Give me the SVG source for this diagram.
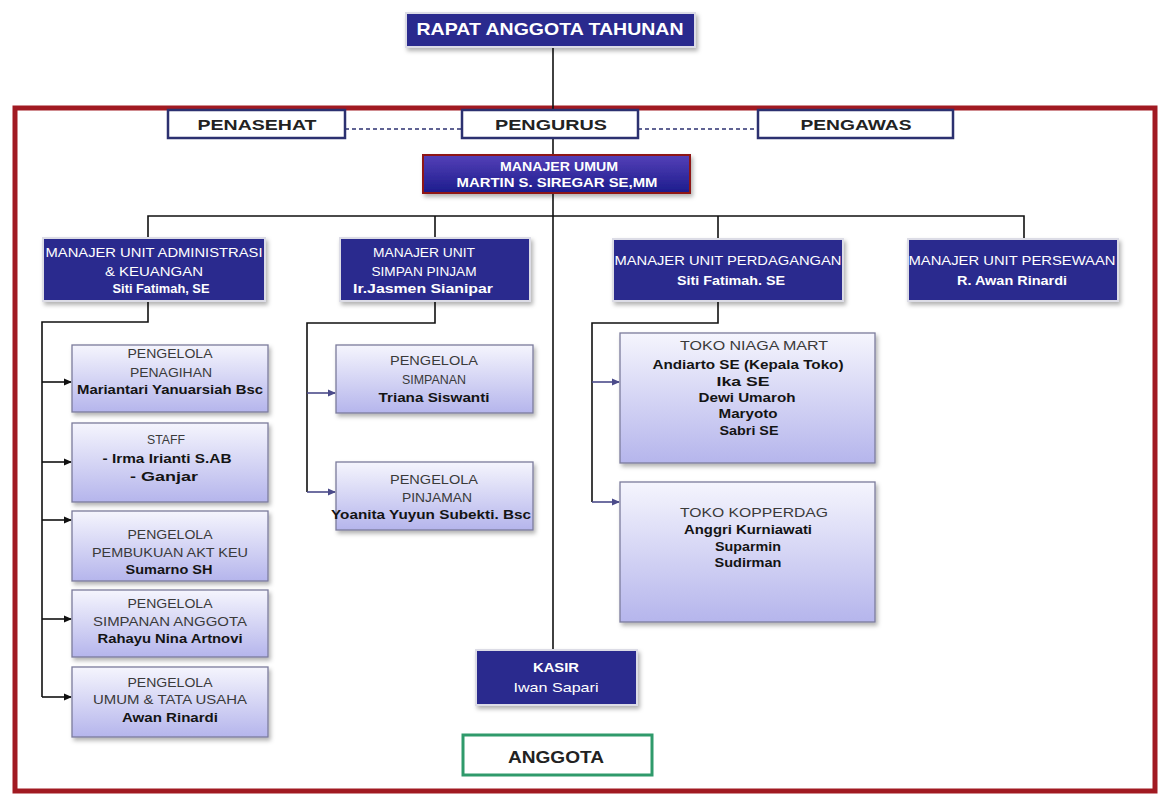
<svg xmlns="http://www.w3.org/2000/svg" width="1165" height="796" viewBox="0 0 1165 796">
<style>
text{font-family:"Liberation Sans",Arial,sans-serif;text-anchor:middle}
.w{fill:#fff;font-size:13px}
.wb{fill:#fff;font-size:13px;font-weight:bold}
.d{fill:#3a3a3a;font-size:13px}
.db{fill:#141414;font-size:13px;font-weight:bold}
.top{fill:#222;font-size:15px;font-weight:bold}
.blue{fill:#2b2b8e;stroke:#dcdce6;stroke-width:2}
.light{fill:url(#lg);stroke:#7c7c9c;stroke-width:1.3}
.hdr{fill:#fff;stroke:#2c3170;stroke-width:2.5}
.ln{fill:none;stroke:#111;stroke-width:1.6}
.dash{fill:none;stroke:#2c3170;stroke-width:1.4;stroke-dasharray:4 3}
.pa{fill:none;stroke:#4b4b8a;stroke-width:1.6}
</style>
<defs>
<linearGradient id="lg" x1="0" y1="0" x2="0" y2="1">
<stop offset="0" stop-color="#f5f5fd"/>
<stop offset="1" stop-color="#b5b5ec"/>
</linearGradient>
<linearGradient id="mu" x1="0" y1="0" x2="0" y2="1">
<stop offset="0" stop-color="#5540b8"/>
<stop offset="1" stop-color="#1c1c8c"/>
</linearGradient>
<filter id="sh" x="-10%" y="-20%" width="125%" height="150%">
<feDropShadow dx="2" dy="3" stdDeviation="2" flood-color="#000" flood-opacity="0.3"/>
</filter>
<marker id="ab" markerWidth="8" markerHeight="8" refX="7" refY="4" orient="auto" markerUnits="userSpaceOnUse">
<path d="M0,0.5 L8,4 L0,7.5 z" fill="#111"/>
</marker>
<marker id="ap" markerWidth="8" markerHeight="8" refX="7" refY="4" orient="auto" markerUnits="userSpaceOnUse">
<path d="M0,0.5 L8,4 L0,7.5 z" fill="#4b4b8a"/>
</marker>
</defs>
<rect width="1165" height="796" fill="#fff"/>
<rect id="frame" x="15" y="108" width="1140" height="683" fill="none" stroke="#a11a22" stroke-width="5"/>

<g id="connectors">
<line class="ln" x1="553" y1="47" x2="553" y2="650"/>
<line class="dash" x1="345" y1="129" x2="462" y2="129"/>
<line class="dash" x1="638" y1="129" x2="758" y2="129"/>
<polyline class="ln" points="148,238 148,216 1024,216 1024,239"/>
<line class="ln" x1="435" y1="216" x2="435" y2="238"/>
<line class="ln" x1="718" y1="216" x2="718" y2="239"/>
<polyline class="ln" points="148,301 148,322 42,322 42,697"/>
<line class="ln" x1="42" y1="382" x2="71" y2="382" marker-end="url(#ab)"/>
<line class="ln" x1="42" y1="462" x2="71" y2="462" marker-end="url(#ab)"/>
<line class="ln" x1="42" y1="520" x2="71" y2="520" marker-end="url(#ab)"/>
<line class="ln" x1="42" y1="619" x2="71" y2="619" marker-end="url(#ab)"/>
<line class="ln" x1="42" y1="697" x2="71" y2="697" marker-end="url(#ab)"/>
<polyline class="ln" points="435,301 435,323 307,323 307,492"/>
<line class="pa" x1="307" y1="393" x2="335" y2="393" marker-end="url(#ap)"/>
<line class="pa" x1="307" y1="492" x2="335" y2="492" marker-end="url(#ap)"/>
<polyline class="ln" points="718,301 718,323 592,323 592,502"/>
<line class="pa" x1="592" y1="382" x2="619" y2="382" marker-end="url(#ap)"/>
<line class="pa" x1="592" y1="502" x2="619" y2="502" marker-end="url(#ap)"/>
</g>

<g id="rapat">
<rect class="blue" x="406" y="13" width="289" height="34" filter="url(#sh)"/>
<text class="wb" x="550" y="35" style="font-size:17px" textLength="267" lengthAdjust="spacingAndGlyphs">RAPAT ANGGOTA TAHUNAN</text>
</g>
<g id="penasehat">
<rect class="hdr" x="168" y="110" width="177" height="28"/>
<text class="top" x="257" y="130" textLength="119" lengthAdjust="spacingAndGlyphs">PENASEHAT</text>
</g>
<g id="pengurus">
<rect class="hdr" x="462" y="110" width="176" height="28"/>
<text class="top" x="551" y="130" textLength="112" lengthAdjust="spacingAndGlyphs">PENGURUS</text>
</g>
<g id="pengawas">
<rect class="hdr" x="758" y="110" width="195" height="28"/>
<text class="top" x="856" y="130" textLength="111" lengthAdjust="spacingAndGlyphs">PENGAWAS</text>
</g>
<g id="manajer-umum">
<rect x="423" y="155" width="267" height="38" fill="url(#mu)" stroke="#8e1518" stroke-width="2" filter="url(#sh)"/>
<text class="wb" x="559" y="171" textLength="118" lengthAdjust="spacingAndGlyphs">MANAJER UMUM</text>
<text class="wb" x="557" y="187" textLength="201" lengthAdjust="spacingAndGlyphs">MARTIN S. SIREGAR  SE,MM</text>
</g>

<g id="mu-admin">
<rect class="blue" x="43" y="238" width="222" height="63" filter="url(#sh)"/>
<text class="w" x="154" y="257" textLength="217" lengthAdjust="spacingAndGlyphs">MANAJER UNIT ADMINISTRASI</text>
<text class="w" x="154" y="276" textLength="98" lengthAdjust="spacingAndGlyphs">&amp; KEUANGAN</text>
<text class="wb" x="161" y="293" textLength="97" lengthAdjust="spacingAndGlyphs">Siti Fatimah, SE</text>
</g>
<g id="mu-simpan">
<rect class="blue" x="340" y="238" width="190" height="63" filter="url(#sh)"/>
<text class="w" x="424" y="257" textLength="102" lengthAdjust="spacingAndGlyphs">MANAJER UNIT</text>
<text class="w" x="424" y="276" textLength="105" lengthAdjust="spacingAndGlyphs">SIMPAN PINJAM</text>
<text class="wb" x="423" y="293" textLength="140" lengthAdjust="spacingAndGlyphs">Ir.Jasmen  Sianipar</text>
</g>
<g id="mu-perdagangan">
<rect class="blue" x="613" y="239" width="230" height="62" filter="url(#sh)"/>
<text class="w" x="728" y="265" textLength="227" lengthAdjust="spacingAndGlyphs">MANAJER UNIT PERDAGANGAN</text>
<text class="wb" x="731" y="285" textLength="108" lengthAdjust="spacingAndGlyphs">Siti  Fatimah. SE</text>
</g>
<g id="mu-persewaan">
<rect class="blue" x="908" y="239" width="210" height="62" filter="url(#sh)"/>
<text class="w" x="1012" y="265" textLength="207" lengthAdjust="spacingAndGlyphs">MANAJER UNIT PERSEWAAN</text>
<text class="wb" x="1012" y="285" textLength="110" lengthAdjust="spacingAndGlyphs">R. Awan Rinardi</text>
</g>

<g id="penagihan">
<rect class="light" x="72" y="345" width="196" height="67" filter="url(#sh)"/>
<text class="d" x="170" y="358" textLength="85" lengthAdjust="spacingAndGlyphs">PENGELOLA</text>
<text class="d" x="171" y="377" textLength="82" lengthAdjust="spacingAndGlyphs">PENAGIHAN</text>
<text class="db" x="170" y="394" textLength="186" lengthAdjust="spacingAndGlyphs">Mariantari Yanuarsiah Bsc</text>
</g>
<g id="staff">
<rect class="light" x="72" y="423" width="196" height="79" filter="url(#sh)"/>
<text class="d" x="166" y="444" textLength="38" lengthAdjust="spacingAndGlyphs">STAFF</text>
<text class="db" x="167" y="463" textLength="129" lengthAdjust="spacingAndGlyphs">- Irma Irianti S.AB</text>
<text class="db" x="164" y="481" textLength="68" lengthAdjust="spacingAndGlyphs">-  Ganjar</text>
</g>
<g id="pembukuan">
<rect class="light" x="72" y="511" width="196" height="70" filter="url(#sh)"/>
<text class="d" x="170" y="539" textLength="85" lengthAdjust="spacingAndGlyphs">PENGELOLA</text>
<text class="d" x="170" y="557" textLength="156" lengthAdjust="spacingAndGlyphs">PEMBUKUAN AKT KEU</text>
<text class="db" x="169" y="574" textLength="87" lengthAdjust="spacingAndGlyphs">Sumarno  SH</text>
</g>
<g id="simpanan-anggota">
<rect class="light" x="72" y="590" width="196" height="67" filter="url(#sh)"/>
<text class="d" x="170" y="608" textLength="85" lengthAdjust="spacingAndGlyphs">PENGELOLA</text>
<text class="d" x="170" y="626" textLength="154" lengthAdjust="spacingAndGlyphs">SIMPANAN ANGGOTA</text>
<text class="db" x="170" y="643" textLength="145" lengthAdjust="spacingAndGlyphs">Rahayu Nina Artnovi</text>
</g>
<g id="umum">
<rect class="light" x="72" y="667" width="196" height="70" filter="url(#sh)"/>
<text class="d" x="170" y="687" textLength="85" lengthAdjust="spacingAndGlyphs">PENGELOLA</text>
<text class="d" x="170" y="704" textLength="154" lengthAdjust="spacingAndGlyphs">UMUM &amp; TATA USAHA</text>
<text class="db" x="170" y="722" textLength="96" lengthAdjust="spacingAndGlyphs">Awan Rinardi</text>
</g>

<g id="simpanan">
<rect class="light" x="336" y="345" width="197" height="68" filter="url(#sh)"/>
<text class="d" x="434" y="365" textLength="88" lengthAdjust="spacingAndGlyphs">PENGELOLA</text>
<text class="d" x="434" y="384" textLength="64" lengthAdjust="spacingAndGlyphs">SIMPANAN</text>
<text class="db" x="434" y="402" textLength="111" lengthAdjust="spacingAndGlyphs">Triana  Siswanti</text>
</g>
<g id="pinjaman">
<rect class="light" x="336" y="462" width="197" height="68" filter="url(#sh)"/>
<text class="d" x="434" y="484" textLength="88" lengthAdjust="spacingAndGlyphs">PENGELOLA</text>
<text class="d" x="437" y="502" textLength="70" lengthAdjust="spacingAndGlyphs">PINJAMAN</text>
<text class="db" x="431" y="519" textLength="200" lengthAdjust="spacingAndGlyphs">Yoanita Yuyun Subekti. Bsc</text>
</g>

<g id="toko-niaga">
<rect class="light" x="620" y="333" width="255" height="130" filter="url(#sh)"/>
<text class="d" x="754" y="350" textLength="148" lengthAdjust="spacingAndGlyphs">TOKO NIAGA MART</text>
<text class="db" x="748" y="369" textLength="191" lengthAdjust="spacingAndGlyphs">Andiarto  SE (Kepala Toko)</text>
<text class="db" x="743" y="386" textLength="53" lengthAdjust="spacingAndGlyphs">Ika  SE</text>
<text class="db" x="747" y="402" textLength="97" lengthAdjust="spacingAndGlyphs">Dewi Umaroh</text>
<text class="db" x="748" y="418" textLength="59" lengthAdjust="spacingAndGlyphs">Maryoto</text>
<text class="db" x="749" y="435" textLength="59" lengthAdjust="spacingAndGlyphs">Sabri  SE</text>
</g>
<g id="toko-kopperdag">
<rect class="light" x="620" y="482" width="255" height="140" filter="url(#sh)"/>
<text class="d" x="754" y="517" textLength="148" lengthAdjust="spacingAndGlyphs">TOKO KOPPERDAG</text>
<text class="db" x="748" y="534" textLength="128" lengthAdjust="spacingAndGlyphs">Anggri Kurniawati</text>
<text class="db" x="748" y="551" textLength="66" lengthAdjust="spacingAndGlyphs">Suparmin</text>
<text class="db" x="748" y="567" textLength="67" lengthAdjust="spacingAndGlyphs">Sudirman</text>
</g>

<g id="kasir">
<rect class="blue" x="476" y="650" width="161" height="55" filter="url(#sh)"/>
<text class="wb" x="556" y="672" textLength="46" lengthAdjust="spacingAndGlyphs">KASIR</text>
<text class="w" x="556" y="692" textLength="85" lengthAdjust="spacingAndGlyphs">Iwan  Sapari</text>
</g>
<g id="anggota">
<rect x="463" y="735" width="189" height="40" fill="#fff" stroke="#2f9a6b" stroke-width="3"/>
<text x="556" y="763" style="font-size:16px;font-weight:bold;fill:#222" textLength="96" lengthAdjust="spacingAndGlyphs">ANGGOTA</text>
</g>
</svg>
